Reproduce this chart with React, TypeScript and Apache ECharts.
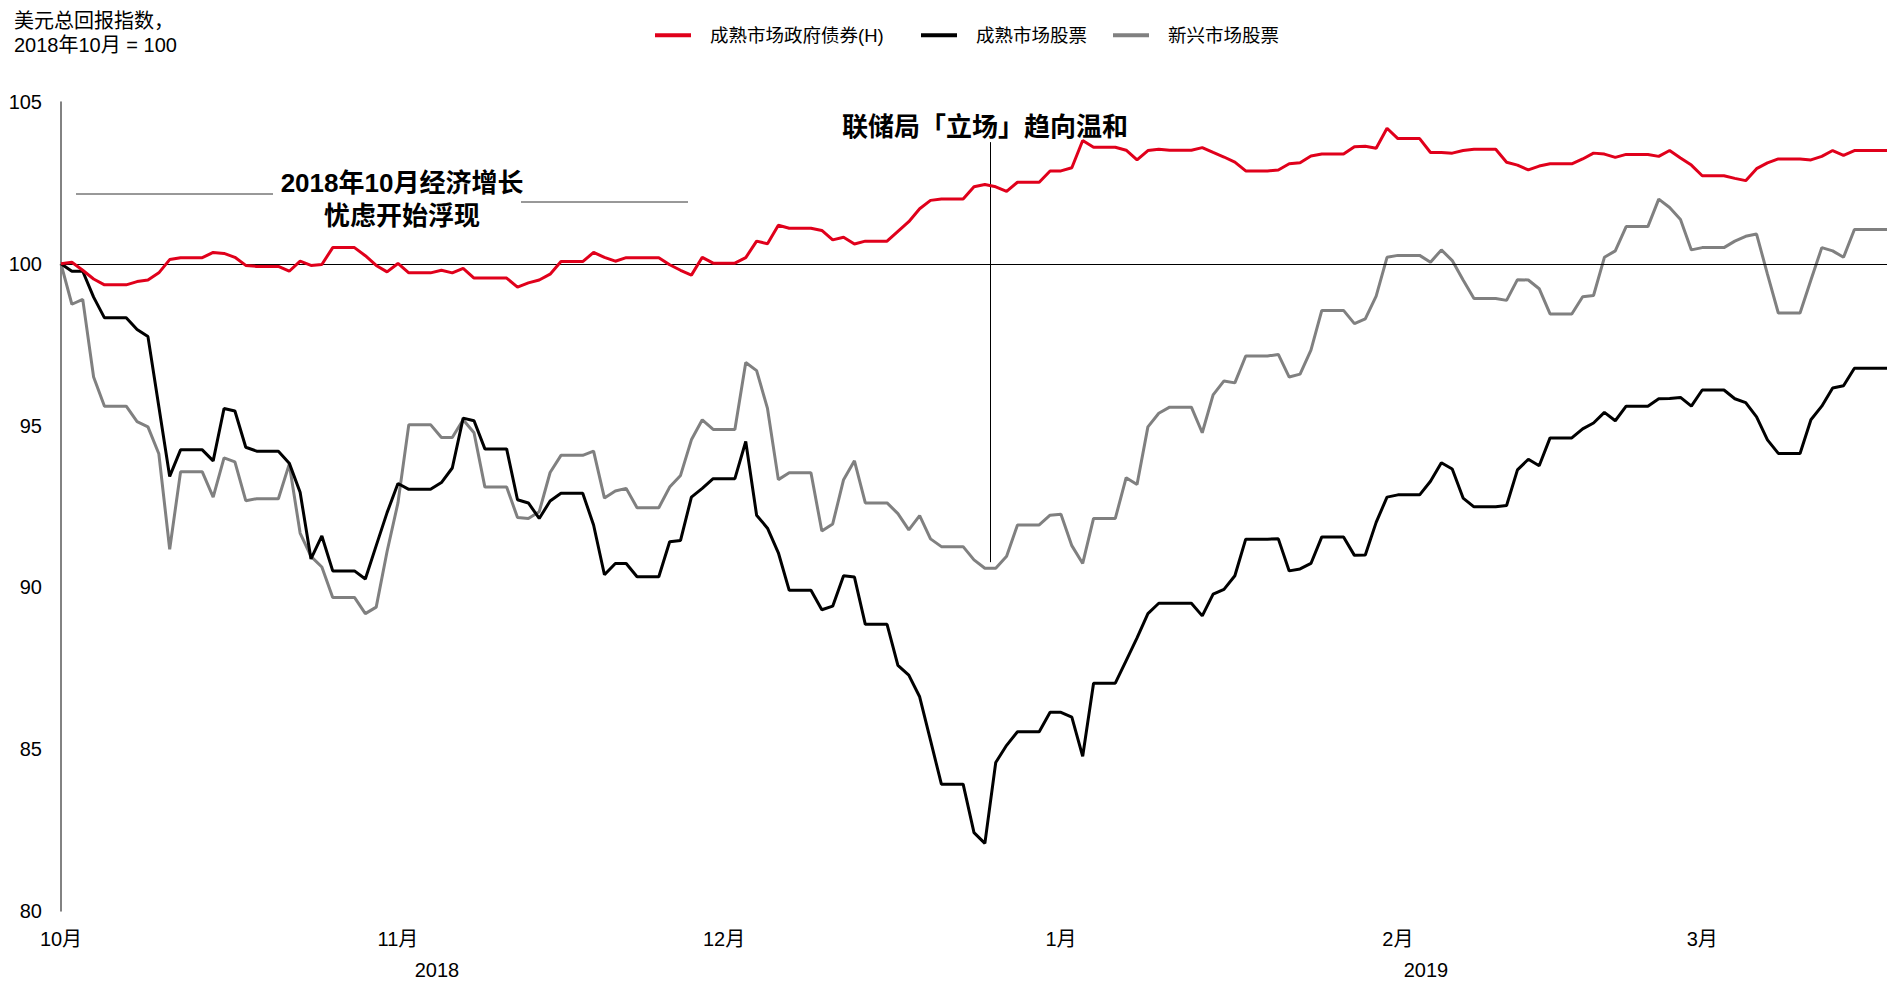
import React, { useEffect, useRef } from "react";
import * as echarts from "echarts";

const FONT = '"Liberation Sans", Arial, "Noto Sans CJK SC", sans-serif';

const seriesNames = ["成熟市场政府债券(H)", "成熟市场股票", "新兴市场股票"];
const seriesColors = ["#E0001B", "#000000", "#808080"];

const startDate = "2018-10-01";
const endDate = "2019-03-18";
const monthStarts = ["2018-10-01", "2018-11-01", "2018-12-01", "2019-01-01", "2019-02-01", "2019-03-01"];
const monthLabels = ["10月", "11月", "12月", "1月", "2月", "3月"];
const yearLabels = ["2018", "2019"];
const fedLineDate = "2018-12-25T12:00:00Z";

// weekday (Mon–Fri) values; weekends carry the Friday value
const dmGovBonds = [
  100.0, 100.05, 99.8, 99.53, 99.35,
  99.45, 99.5, 99.72, 100.13, 100.19,
  100.35, 100.32, 100.2, 99.95, 99.92,
  99.77, 100.08, 99.95, 99.98, 100.5,
  100.25, 99.95, 99.75, 100.01, 99.72,
  99.8, 99.72, 99.86, 99.56, 99.56,
  99.28, 99.41, 99.5, 99.68, 100.07,
  100.35, 100.2, 100.08, 100.19, 100.19,
  99.97, 99.8, 99.65, 100.2, 100.02,
  100.19, 100.7, 100.62, 101.19, 101.1,
  101.03, 100.74, 100.82, 100.61, 100.7,
  101.0, 101.3, 101.7, 101.96, 102.0,
  102.38, 102.45, 102.38, 102.24, 102.52,
  102.87, 102.87, 102.97, 103.81, 103.6,
  103.51, 103.21, 103.5, 103.54, 103.51,
  103.59, 103.44, 103.3, 103.14, 102.87,
  102.9, 103.09, 103.12, 103.33, 103.39,
  103.62, 103.63, 103.57, 104.19, 103.87,
  103.44, 103.44, 103.42, 103.5, 103.54,
  103.14, 103.05, 102.9, 103.02, 103.09,
  103.24, 103.42, 103.39, 103.29, 103.38,
  103.32, 103.5, 103.27, 103.05, 102.72,
  102.64, 102.57, 102.94, 103.12, 103.24,
  103.21, 103.32, 103.5, 103.35, 103.5,
  103.5,
];

const dmEquities = [
  100.0, 99.77, 99.77, 98.97, 98.33,
  97.97, 97.75, 95.59, 93.43, 94.25,
  93.91, 95.53, 95.45, 94.33, 94.21,
  93.84, 92.94, 90.88, 91.59, 90.51,
  90.26, 91.29, 92.31, 93.21, 93.03,
  93.24, 93.69, 95.23, 95.15, 94.28,
  92.71, 92.61, 92.13, 92.67, 92.91,
  91.93, 90.39, 90.74, 90.74, 90.33,
  91.41, 91.45, 92.79, 93.06, 93.36,
  94.51, 92.23, 91.83, 91.07, 89.91,
  89.31, 89.42, 90.36, 90.32, 88.86,
  87.59, 87.29, 86.62, 85.27, 83.92,
  82.42, 82.09, 84.59, 85.12, 85.54,
  86.14, 86.14, 85.99, 84.78, 87.04,
  87.74, 88.44, 89.19, 89.51, 89.51,
  89.12, 89.79, 89.94, 90.36, 91.49,
  91.5, 90.51, 90.57, 90.74, 91.56,
  90.99, 91.0, 92.01, 92.79, 92.86,
  93.28, 93.85, 93.66, 92.76, 92.49,
  92.53, 93.63, 93.96, 93.76, 94.62,
  94.9, 95.08, 95.41, 95.15, 95.6,
  95.83, 95.84, 95.87, 95.6, 96.1,
  95.83, 95.71, 95.27, 94.56, 94.14,
  95.18, 95.6, 96.16, 96.23, 96.77,
  96.77,
];

const emEquities = [
  100.0, 98.75, 98.9, 96.5, 95.6,
  95.12, 94.96, 94.13, 91.18, 93.57,
  92.79, 94.0, 93.88, 92.68, 92.74,
  93.81, 91.68, 90.96, 90.63, 89.69,
  89.19, 89.39, 91.11, 92.61, 95.03,
  94.63, 94.63, 95.18, 94.78, 93.1,
  92.16, 92.13, 92.34, 93.55, 94.08,
  94.21, 92.76, 92.98, 93.06, 92.46,
  93.1, 93.46, 94.56, 95.18, 94.88,
  96.95, 96.7, 95.53, 93.33, 93.54,
  91.74, 91.96, 93.33, 93.91, 92.61,
  92.28, 91.78, 92.22, 91.5, 91.26,
  90.85, 90.59, 90.59, 90.96, 91.93,
  92.23, 92.26, 91.29, 90.74, 92.13,
  93.39, 93.18, 94.96, 95.38, 95.57,
  94.78, 95.95, 96.38, 96.32, 97.15,
  97.2, 96.5, 96.59, 97.33, 98.56,
  98.15, 98.3, 99.0, 100.2, 100.26,
  100.05, 100.43, 100.1, 99.5, 98.93,
  98.87, 99.51, 99.5, 99.23, 98.45,
  98.98, 99.02, 100.2, 100.4, 101.15,
  102.0, 101.74, 101.37, 100.43, 100.5,
  100.7, 100.85, 100.92, 99.68, 98.48,
  99.5, 100.5, 100.4, 100.2, 101.06,
  101.06,
];

const DAY = 86400000;
const t0 = Date.parse(startDate + "T00:00:00Z");
const dayOf = (s: string) => (Date.parse(s.length > 10 ? s : s + "T00:00:00Z") - t0) / DAY;
const lastDay = dayOf(endDate);

function buildDaily(weekdayValues: number[]) {
  const out: [number, number][] = [];
  let i = 0;
  let last = weekdayValues[0];
  for (let d = 0; d <= lastDay; d++) {
    const dow = new Date(t0 + d * DAY).getUTCDay();
    if (dow !== 0 && dow !== 6) {
      last = weekdayValues[Math.min(i, weekdayValues.length - 1)];
      i++;
    }
    out.push([d, last]);
  }
  return out;
}

export default function App() {
  const ref = useRef<HTMLDivElement>(null);
  useEffect(() => {
    if (!ref.current) return;
    const chart = echarts.init(ref.current, null, { renderer: "svg" });
    const monthDays = monthStarts.map(dayOf);
    const fedDay = dayOf(fedLineDate);
    const datasets = [dmGovBonds, dmEquities, emEquities];
    const order = [2, 1, 0];
    const legendLefts = [655, 921, 1113];
    chart.setOption({
      animation: false,
      backgroundColor: "#fff",
      textStyle: { fontFamily: FONT },
      title: {
        text: "美元总回报指数，\n2018年10月 = 100",
        left: 14,
        top: 9,
        padding: 0,
        textStyle: { fontFamily: FONT, fontSize: 20, fontWeight: "normal", color: "#000", lineHeight: 24 },
      },
      legend: seriesNames.map((name, i) => ({
        data: [name],
        left: legendLefts[i],
        top: 26,
        padding: 0,
        icon: "rect",
        itemWidth: 36,
        itemHeight: 4,
        textStyle: { fontFamily: FONT, fontSize: 18.5, color: "#000", padding: [0, 0, 0, 14] },
      })),
      grid: { left: 61, right: 0, top: 102, bottom: 72, containLabel: false },
      xAxis: {
        type: "value",
        min: 0,
        max: lastDay,
        axisLine: { show: false },
        axisTick: { show: false },
        splitLine: { show: false },
        axisLabel: {
          customValues: monthDays,
          formatter: (v: number) => {
            const k = monthDays.indexOf(Math.round(v));
            return k >= 0 ? monthLabels[k] : "";
          },
          fontFamily: FONT,
          fontSize: 20,
          color: "#000",
          margin: 18,
        },
      },
      yAxis: {
        type: "value",
        min: 80,
        max: 105,
        interval: 5,
        axisLine: { show: true, lineStyle: { color: "#595959", width: 1.5 } },
        axisTick: { show: false },
        splitLine: { show: false },
        axisLabel: { fontFamily: FONT, fontSize: 20, color: "#000", margin: 19 },
      },
      series: order.map((k) => ({
        name: seriesNames[k],
        type: "line",
        data: buildDaily(datasets[k]),
        showSymbol: false,
        symbol: "none",
        lineStyle: { color: seriesColors[k], width: 3 },
        itemStyle: { color: seriesColors[k] },
        z: 3 + (2 - k),
        markLine:
          k === 0
            ? {
                silent: true,
                symbol: "none",
                label: { show: false },
                lineStyle: { color: "#000", width: 1, type: "solid" },
                data: [
                  { yAxis: 100 },
                  [{ coord: [fedDay, 103.76] }, { coord: [fedDay, 90.78] }],
                ],
              }
            : undefined,
      })),
      graphic: [
        {
          type: "line",
          shape: { x1: 76, y1: 194, x2: 273, y2: 194 },
          style: { stroke: "#333", lineWidth: 1 },
        },
        {
          type: "line",
          shape: { x1: 521, y1: 202, x2: 688, y2: 202 },
          style: { stroke: "#333", lineWidth: 1 },
        },
        {
          type: "text",
          x: 402,
          y: 199,
          style: {
            text: "2018年10月经济增长\n忧虑开始浮现",
            fontFamily: FONT,
            fontSize: 26,
            fontWeight: "bold",
            lineHeight: 33,
            fill: "#000",
            align: "center",
            verticalAlign: "middle",
          },
        },
        {
          type: "text",
          x: 985,
          y: 127,
          style: {
            text: "联储局「立场」趋向温和",
            fontFamily: FONT,
            fontSize: 26,
            fontWeight: "bold",
            fill: "#000",
            align: "center",
            verticalAlign: "middle",
          },
        },
        {
          type: "text",
          x: 437,
          y: 970,
          style: { text: yearLabels[0], fontFamily: FONT, fontSize: 20, fill: "#000", align: "center", verticalAlign: "middle" },
        },
        {
          type: "text",
          x: 1426,
          y: 970,
          style: { text: yearLabels[1], fontFamily: FONT, fontSize: 20, fill: "#000", align: "center", verticalAlign: "middle" },
        },
      ],
    });
    return () => chart.dispose();
  }, []);
  return (
    <div
      ref={ref}
      style={{ position: "fixed", left: 0, top: 0, width: 1887, height: 983, background: "#fff" }}
    />
  );
}
